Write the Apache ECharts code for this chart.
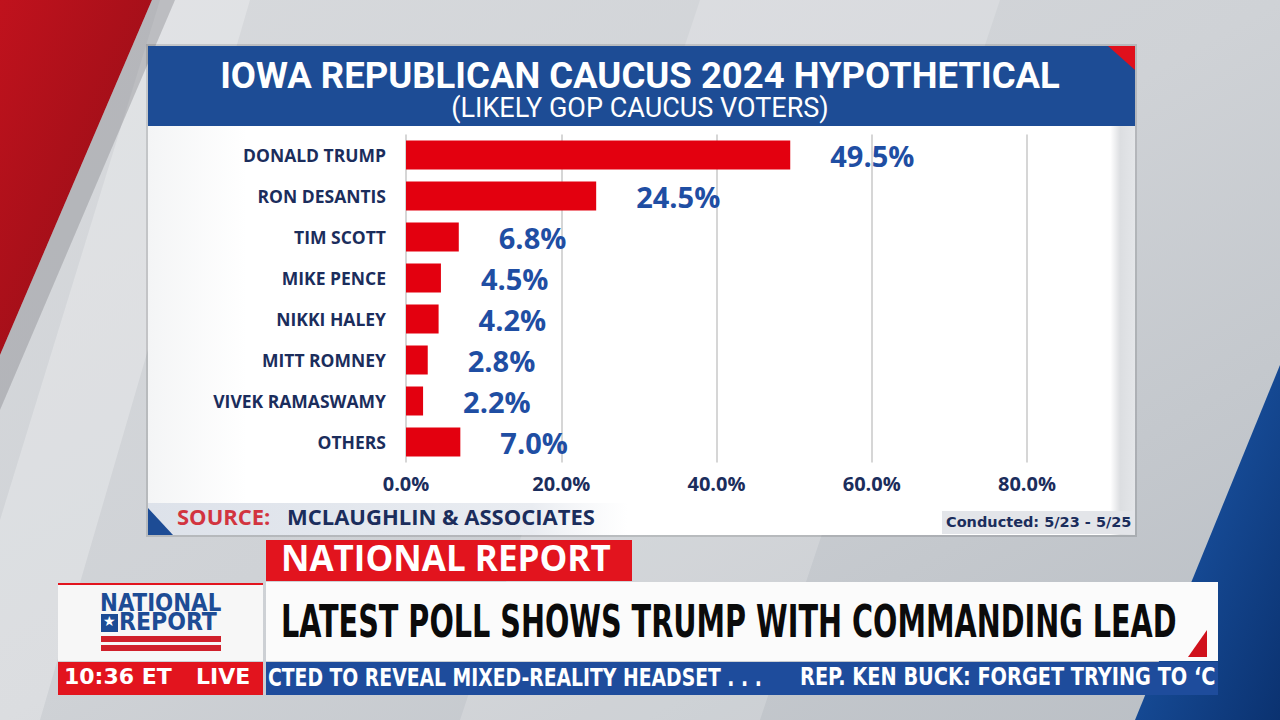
<!DOCTYPE html>
<html>
<head>
<meta charset="utf-8">
<script src="https://cdn.jsdelivr.net/npm/echarts@6/dist/echarts.min.js"></script>
<style>
html,body{margin:0;padding:0;width:1280px;height:720px;overflow:hidden;background:#d3d6d9;}
#chart{width:1280px;height:720px;}
</style>
</head>
<body>
<div id="chart"></div>
<script>
const categories = ['DONALD TRUMP','RON DESANTIS','TIM SCOTT','MIKE PENCE','NIKKI HALEY','MITT ROMNEY','VIVEK RAMASWAMY','OTHERS'];
const values = [49.5, 24.5, 6.8, 4.5, 4.2, 2.8, 2.2, 7.0];
const axisTicks = [0, 20, 40, 60, 80];
const titleText = 'IOWA REPUBLICAN CAUCUS 2024 HYPOTHETICAL';
const subtitleText = '(LIKELY GOP CAUCUS VOTERS)';
const sourceLabel = 'SOURCE:';
const sourceName = 'MCLAUGHLIN & ASSOCIATES';
const conducted = 'Conducted: 5/23 - 5/25';
const tabText = 'NATIONAL REPORT';
const headline = 'LATEST POLL SHOWS TRUMP WITH COMMANDING LEAD';
const tickerA = 'CTED TO REVEAL MIXED-REALITY HEADSET . . .';
const tickerB = 'REP. KEN BUCK: FORGET TRYING TO \u2018C';
const clock = '10:36 ET';
const liveText = 'LIVE';

const NAVY = '#1b2d5c';
const BLUE = '#1d4c95';
const LBL = '#1f4ea3';
const RED = '#e3000f';
const COND = '"DejaVu Sans Condensed", "DejaVu Sans", sans-serif';

const chart = echarts.init(document.getElementById('chart'), null, {renderer:'svg'});

const graphic = [
  // background
  {type:'rect', z:-10, shape:{x:0,y:0,width:1280,height:720},
   style:{fill:new echarts.graphic.LinearGradient(0,0,1,1,[{offset:0,color:'#d8dadd'},{offset:0.5,color:'#cfd2d6'},{offset:1,color:'#b9bec4'}])}},
  {type:'polygon', z:-9, shape:{points:[[160,0],[250,0],[40,720],[0,720],[0,520]]}, style:{fill:'rgba(255,255,255,0.25)'}},
  {type:'polygon', z:-9, shape:{points:[[700,0],[1000,0],[760,720],[460,720]]}, style:{fill:'rgba(255,255,255,0.18)'}},
  {type:'polygon', z:-9, shape:{points:[[0,0],[152,0],[0,355]]},
   style:{fill:new echarts.graphic.LinearGradient(0,0,1,1,[{offset:0,color:'#c0121d'},{offset:1,color:'#8e0d16'}])}},
  {type:'polygon', z:-9, shape:{points:[[152,0],[175,0],[0,410],[0,355]]}, style:{fill:'rgba(120,120,125,0.35)'}},
  {type:'polygon', z:-9, shape:{points:[[1280,365],[1280,720],[1135,720]]},
   style:{fill:new echarts.graphic.LinearGradient(0,0,1,1,[{offset:0,color:'#1f5fb5'},{offset:1,color:'#0b3270'}])}},
  // panel
  {type:'rect', z:-5, shape:{x:146,y:44,width:991,height:493}, style:{fill:'rgba(0,0,0,0.12)'}},
  {type:'rect', z:-4, shape:{x:148,y:126,width:987,height:409},
   style:{fill:new echarts.graphic.LinearGradient(0,0,1,0,[{offset:0,color:'#f4f5f6'},{offset:0.1,color:'#ffffff'},{offset:0.975,color:'#ffffff'},{offset:0.985,color:'#dcdee1'},{offset:1,color:'#e4e6e9'}])}},
  {type:'rect', z:-3, shape:{x:148,y:46,width:987,height:80}, style:{fill:BLUE}},
  {type:'polygon', z:-2, shape:{points:[[1108,46],[1135,46],[1135,70]]}, style:{fill:'#e0101c'}},
  // source strip
  {type:'rect', z:-3, shape:{x:148,y:503,width:480,height:32},
   style:{fill:new echarts.graphic.LinearGradient(0,0,1,0,[{offset:0,color:'#dde2ea'},{offset:0.8,color:'#e9ecf1'},{offset:1,color:'rgba(240,242,245,0)'}])}},
  {type:'polygon', z:-2, shape:{points:[[148,508],[173,535],[148,535]]}, style:{fill:BLUE}},
  {type:'text', left:177, top:505, style:{text:sourceLabel, fill:'#d2343f', font:'bold 22px "Open Sans", sans-serif'}},
  {type:'text', left:287, top:505, style:{text:sourceName, fill:NAVY, font:'bold 22px "Open Sans", sans-serif'}},
  {type:'rect', z:-2, shape:{x:942,y:511,width:193,height:23}, style:{fill:'#e3e5e9'}},
  {type:'text', left:946, top:514, style:{text:conducted, fill:NAVY, font:'bold 14.5px "DejaVu Sans", sans-serif'}},
  // lower third
  {type:'rect', shape:{x:266,y:540,width:366,height:41}, style:{fill:'#e2141e'}},
  {type:'text', left:281, top:540, style:{text:tabText, fill:'#ffffff', font:'bold 35px "Open Sans", sans-serif'}},
  {type:'rect', shape:{x:266,y:582,width:952,height:79}, style:{fill:'#fbfbfb'}},
  {type:'polygon', shape:{points:[[1207,630],[1207,657],[1188,657]]}, style:{fill:'#d0111c'}},
  {type:'text', x:281, y:600, scaleX:0.725, style:{text:headline, fill:'#0b0b0b', font:'bold 44px ' + COND}},
  {type:'rect', shape:{x:58,y:583,width:205,height:78}, style:{fill:'#f7f7f7'}},
  {type:'rect', shape:{x:58,y:583,width:205,height:2}, style:{fill:'#e2141e'}},
  {type:'text', x:100, y:590, scaleX:0.95, style:{text:'NATIONAL', fill:BLUE, font:'bold 25px ' + COND}},
  {type:'rect', shape:{x:101,y:614,width:17,height:18}, style:{fill:BLUE}},
  {type:'text', x:103, y:614, style:{text:'\u2605', fill:'#ffffff', font:'14px "DejaVu Sans"'}},
  {type:'text', x:119, y:609, scaleX:0.98, style:{text:'REPORT', fill:BLUE, font:'bold 25px ' + COND}},
  {type:'rect', shape:{x:101,y:636,width:120,height:6}, style:{fill:'#d0202b'}},
  {type:'rect', shape:{x:101,y:645,width:120,height:6}, style:{fill:'#d0202b'}},
  {type:'rect', shape:{x:58,y:662,width:205,height:33}, style:{fill:'#e2141e'}},
  {type:'text', left:64, top:665, style:{text:clock, fill:'#ffffff', font:'bold 22px "DejaVu Sans", sans-serif'}},
  {type:'text', left:196, top:665, style:{text:liveText, fill:'#ffffff', font:'bold 22px "DejaVu Sans", sans-serif'}},
  {type:'rect', shape:{x:266,y:662,width:952,height:33}, style:{fill:'#1e4c9c'}},
  {type:'text', x:268, y:665, scaleX:0.87, style:{text:tickerA, fill:'#ffffff', font:'bold 24px ' + COND}},
  {type:'text', x:800, y:665, scaleX:0.895, style:{text:tickerB, fill:'#ffffff', font:'bold 24px ' + COND}}
];

const option = {
  animation:false,
  backgroundColor:'transparent',
  title:{
    text:'{t|' + titleText + '}\n{s|' + subtitleText + '}', left:'center', top:58.5, padding:0,
    textStyle:{
      rich:{
        t:{color:'#ffffff', fontSize:36.5, lineHeight:33, fontWeight:'bold', fontFamily:'Roboto, sans-serif', align:'center'},
        s:{color:'#ffffff', fontSize:27, lineHeight:32, fontWeight:'normal', fontFamily:'Roboto, sans-serif', align:'center'}
      }
    }
  },
  grid:{left:406, right:253, top:134.5, bottom:257.5, containLabel:false},
  xAxis:{
    type:'value', min:axisTicks[0], max:axisTicks[axisTicks.length-1], interval:axisTicks[1]-axisTicks[0],
    axisLine:{show:false}, axisTick:{show:false},
    splitLine:{lineStyle:{color:'#d6d6d6', width:2}},
    axisLabel:{margin:11, color:NAVY, fontSize:20, fontWeight:'bold', fontFamily:'"Open Sans", sans-serif',
      formatter:v => v.toFixed(1) + '%'}
  },
  yAxis:{
    type:'category', data:categories, inverse:true,
    axisLine:{show:false}, axisTick:{show:false},
    axisLabel:{margin:20, color:NAVY, fontSize:17.5, fontWeight:'bold', fontFamily:'"Open Sans", sans-serif'}
  },
  series:[{
    type:'bar', data:values, barWidth:29,
    itemStyle:{color:RED},
    label:{show:true, position:'right', distance:40, color:LBL, fontSize:29, fontWeight:'bold',
      fontFamily:'"Open Sans", sans-serif', formatter:p => p.value.toFixed(1) + '%'}
  }],
  graphic:graphic
};
chart.setOption(option);
</script>
</body>
</html>
